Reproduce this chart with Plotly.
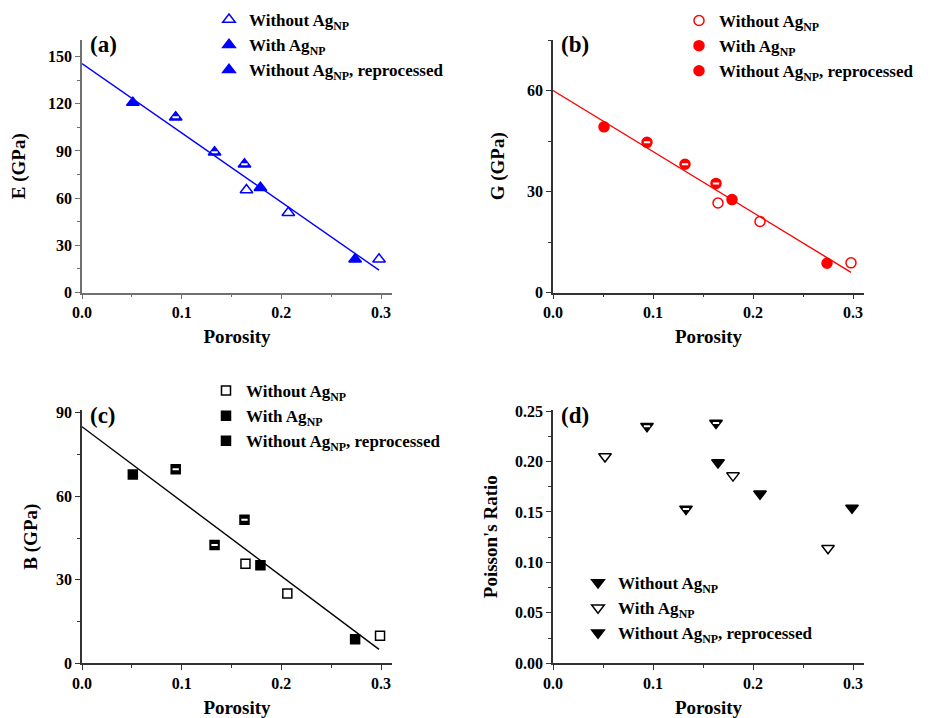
import plotly.graph_objects as go

# ---------------- data ----------------
# Panel (a): Young's modulus E (GPa)
a_without_x = [0.165, 0.207, 0.298]
a_without_y = [65.2, 50.7, 21.1]
a_with_x = [0.051, 0.179, 0.274]
a_with_y = [120.7, 66.6, 21.1]
a_rep_x = [0.094, 0.133, 0.163]
a_rep_y = [111.4, 89.1, 81.5]
a_fit_x = [0.0, 0.298]
a_fit_y = [145.5, 14.2]

# Panel (b): Shear modulus G (GPa)
b_without_x = [0.165, 0.207, 0.298]
b_without_y = [26.6, 21.1, 8.8]
b_with_x = [0.051, 0.179, 0.274]
b_with_y = [49.2, 27.6, 8.7]
b_rep_x = [0.094, 0.132, 0.163]
b_rep_y = [44.6, 38.1, 32.4]
b_fit_x = [0.0, 0.298]
b_fit_y = [60.0, 6.0]

# Panel (c): Bulk modulus B (GPa)
c_without_x = [0.164, 0.206, 0.299]
c_without_y = [35.8, 25.1, 9.9]
c_with_x = [0.051, 0.179, 0.274]
c_with_y = [67.8, 35.2, 8.6]
c_rep_x = [0.094, 0.133, 0.163]
c_rep_y = [69.7, 42.5, 51.6]
c_fit_x = [0.0, 0.298]
c_fit_y = [85.0, 5.0]

# Panel (d): Poisson's ratio
d_without_x = [0.165, 0.207, 0.299]
d_without_y = [0.199, 0.168, 0.154]
d_with_x = [0.052, 0.180, 0.275]
d_with_y = [0.205, 0.186, 0.114]
d_rep_x = [0.094, 0.133, 0.163]
d_rep_y = [0.235, 0.153, 0.238]

LBL_WITHOUT = "Without Ag<sub>NP</sub>"
LBL_WITH = "With Ag<sub>NP</sub>"
LBL_REP = "Without Ag<sub>NP</sub>, reprocessed"

FONT = "Liberation Serif"
BLUE = "#0000ff"
RED = "#ff0000"
BLACK = "#000000"

fig = go.Figure()


def add_panel(n, color, sym, without, with_, rep, fit, order, sizes):
    xa = "x" if n == 1 else f"x{n}"
    ya = "y" if n == 1 else f"y{n}"
    leg = "legend" if n == 1 else f"legend{n}"
    fig.add_trace(go.Scatter(
        x=without[0], y=without[1], mode="markers", name=LBL_WITHOUT,
        marker=dict(symbol=sym + ("-open" if order["without_open"] else ""),
                    size=sizes, color=color, line=dict(color=color, width=1.5)),
        xaxis=xa, yaxis=ya, legend=leg))
    fig.add_trace(go.Scatter(
        x=with_[0], y=with_[1], mode="markers", name=LBL_WITH,
        marker=dict(symbol=sym + ("-open" if order["with_open"] else ""),
                    size=sizes, color=color, line=dict(color=color, width=1.5)),
        xaxis=xa, yaxis=ya, legend=leg))
    fig.add_trace(go.Scatter(
        x=rep[0], y=rep[1], mode="markers", name=LBL_REP,
        marker=dict(symbol=sym, size=sizes, color=color,
                    line=dict(color=color, width=1.5)),
        xaxis=xa, yaxis=ya, legend=leg))
    # white stripe to mimic the half-filled symbols
    fig.add_trace(go.Scatter(
        x=rep[0], y=rep[1], mode="markers", showlegend=False, hoverinfo="skip",
        marker=dict(symbol="line-ew", size=4.5, color="white",
                    line=dict(color="white", width=2)),
        xaxis=xa, yaxis=ya))
    if fit is not None:
        fig.add_trace(go.Scatter(
            x=fit[0], y=fit[1], mode="lines", showlegend=False,
            line=dict(color=color, width=1.4), xaxis=xa, yaxis=ya))


add_panel(1, BLUE, "triangle-up",
          (a_without_x, a_without_y), (a_with_x, a_with_y), (a_rep_x, a_rep_y),
          (a_fit_x, a_fit_y), dict(without_open=True, with_open=False), 11)
add_panel(2, RED, "circle",
          (b_without_x, b_without_y), (b_with_x, b_with_y), (b_rep_x, b_rep_y),
          (b_fit_x, b_fit_y), dict(without_open=True, with_open=False), 10)
add_panel(3, BLACK, "square",
          (c_without_x, c_without_y), (c_with_x, c_with_y), (c_rep_x, c_rep_y),
          (c_fit_x, c_fit_y), dict(without_open=True, with_open=False), 9)
add_panel(4, BLACK, "triangle-down",
          (d_without_x, d_without_y), (d_with_x, d_with_y), (d_rep_x, d_rep_y),
          None, dict(without_open=False, with_open=True), 11)

W, H = 931, 718


def px_x(p):
    return p / W


def px_y(p):
    return 1 - p / H


tickfont = dict(family=FONT, size=16, color="black", weight="bold")
titlefont = dict(family=FONT, size=19, color="black", weight="bold")


def xaxis(dom, anchor, linecolor):
    return dict(domain=dom, anchor=anchor, range=[0, 0.311], automargin=False,
                tickvals=[0.0, 0.1, 0.2, 0.3], ticktext=["0.0", "0.1", "0.2", "0.3"],
                tickfont=tickfont, ticks="outside", ticklen=5, tickwidth=1.2,
                tickcolor=linecolor,
                minor=dict(dtick=0.05, tick0=0, ticks="outside", ticklen=3,
                           tickcolor=linecolor),
                showline=True, linecolor=linecolor, linewidth=1.5,
                showgrid=False, zeroline=False,
                title=dict(text="Porosity", font=titlefont, standoff=9))


def yaxis(dom, anchor, rng, dtick, minor, title, linecolor, standoff, tickformat=None):
    d = dict(domain=dom, anchor=anchor, range=rng, dtick=dtick, tick0=0,
             automargin=False,
             tickfont=tickfont, ticks="outside", ticklen=5, tickwidth=1.2,
             tickcolor=linecolor,
             minor=dict(dtick=minor, tick0=0, ticks="outside", ticklen=3,
                        tickcolor=linecolor),
             showline=True, linecolor=linecolor, linewidth=1.5,
             showgrid=False, zeroline=False,
             title=dict(text=title, font=titlefont, standoff=standoff))
    if tickformat:
        d["tickformat"] = tickformat
    return d


xl = [px_x(82), px_x(392)]
xr = [px_x(553), px_x(864)]
yt = [px_y(292.5), px_y(40)]
yb = [px_y(663.3), px_y(410)]

legfont = dict(family=FONT, size=17, color="black", weight="bold")


def legend(xpx, ypx):
    return dict(x=px_x(xpx), y=px_y(ypx), xanchor="left", yanchor="middle",
                font=legfont, bgcolor="rgba(0,0,0,0)", borderwidth=0,
                tracegroupgap=0, itemwidth=30)


fig.update_layout(
    width=W, height=H,
    margin=dict(l=0, r=0, t=0, b=0),
    paper_bgcolor="white", plot_bgcolor="white",
    font=dict(family=FONT, color="black"),
    xaxis=xaxis(xl, "y", "#707070"),
    yaxis=yaxis(yt, "x", [0, 160.5], 30, 15, "E (GPa)", "#707070", 17),
    xaxis2=xaxis(xr, "y2", "#333333"),
    yaxis2=yaxis(yt, "x2", [0, 75], 30, 15, "G (GPa)", "#333333", 17),
    xaxis3=xaxis(xl, "y3", "#333333"),
    yaxis3=yaxis(yb, "x3", [0, 91], 30, 15, "B (GPa)", "#333333", 13),
    xaxis4=xaxis(xr, "y4", "#333333"),
    yaxis4=yaxis(yb, "x4", [0, 0.251], 0.05, 0.025, "Poisson's Ratio", "#333333", 12, ".2f"),
    legend=legend(209, 45),
    legend2=legend(679, 46),
    legend3=legend(206, 416),
    legend4=legend(578, 608),
)

labels = [("(a)", 88, 45), ("(b)", 559, 45), ("(c)", 88, 415), ("(d)", 559, 415)]
for txt, xp, yp in labels:
    fig.add_annotation(text=txt, x=px_x(xp), y=px_y(yp),
                       xref="paper", yref="paper", xanchor="left", yanchor="middle",
                       showarrow=False,
                       font=dict(family=FONT, size=23, color="black", weight="bold"))

fig.write_html(
    "out.html",
    config={"displayModeBar": False},
    post_script="document.body.style.margin='0';document.body.style.overflow='hidden';",
)
